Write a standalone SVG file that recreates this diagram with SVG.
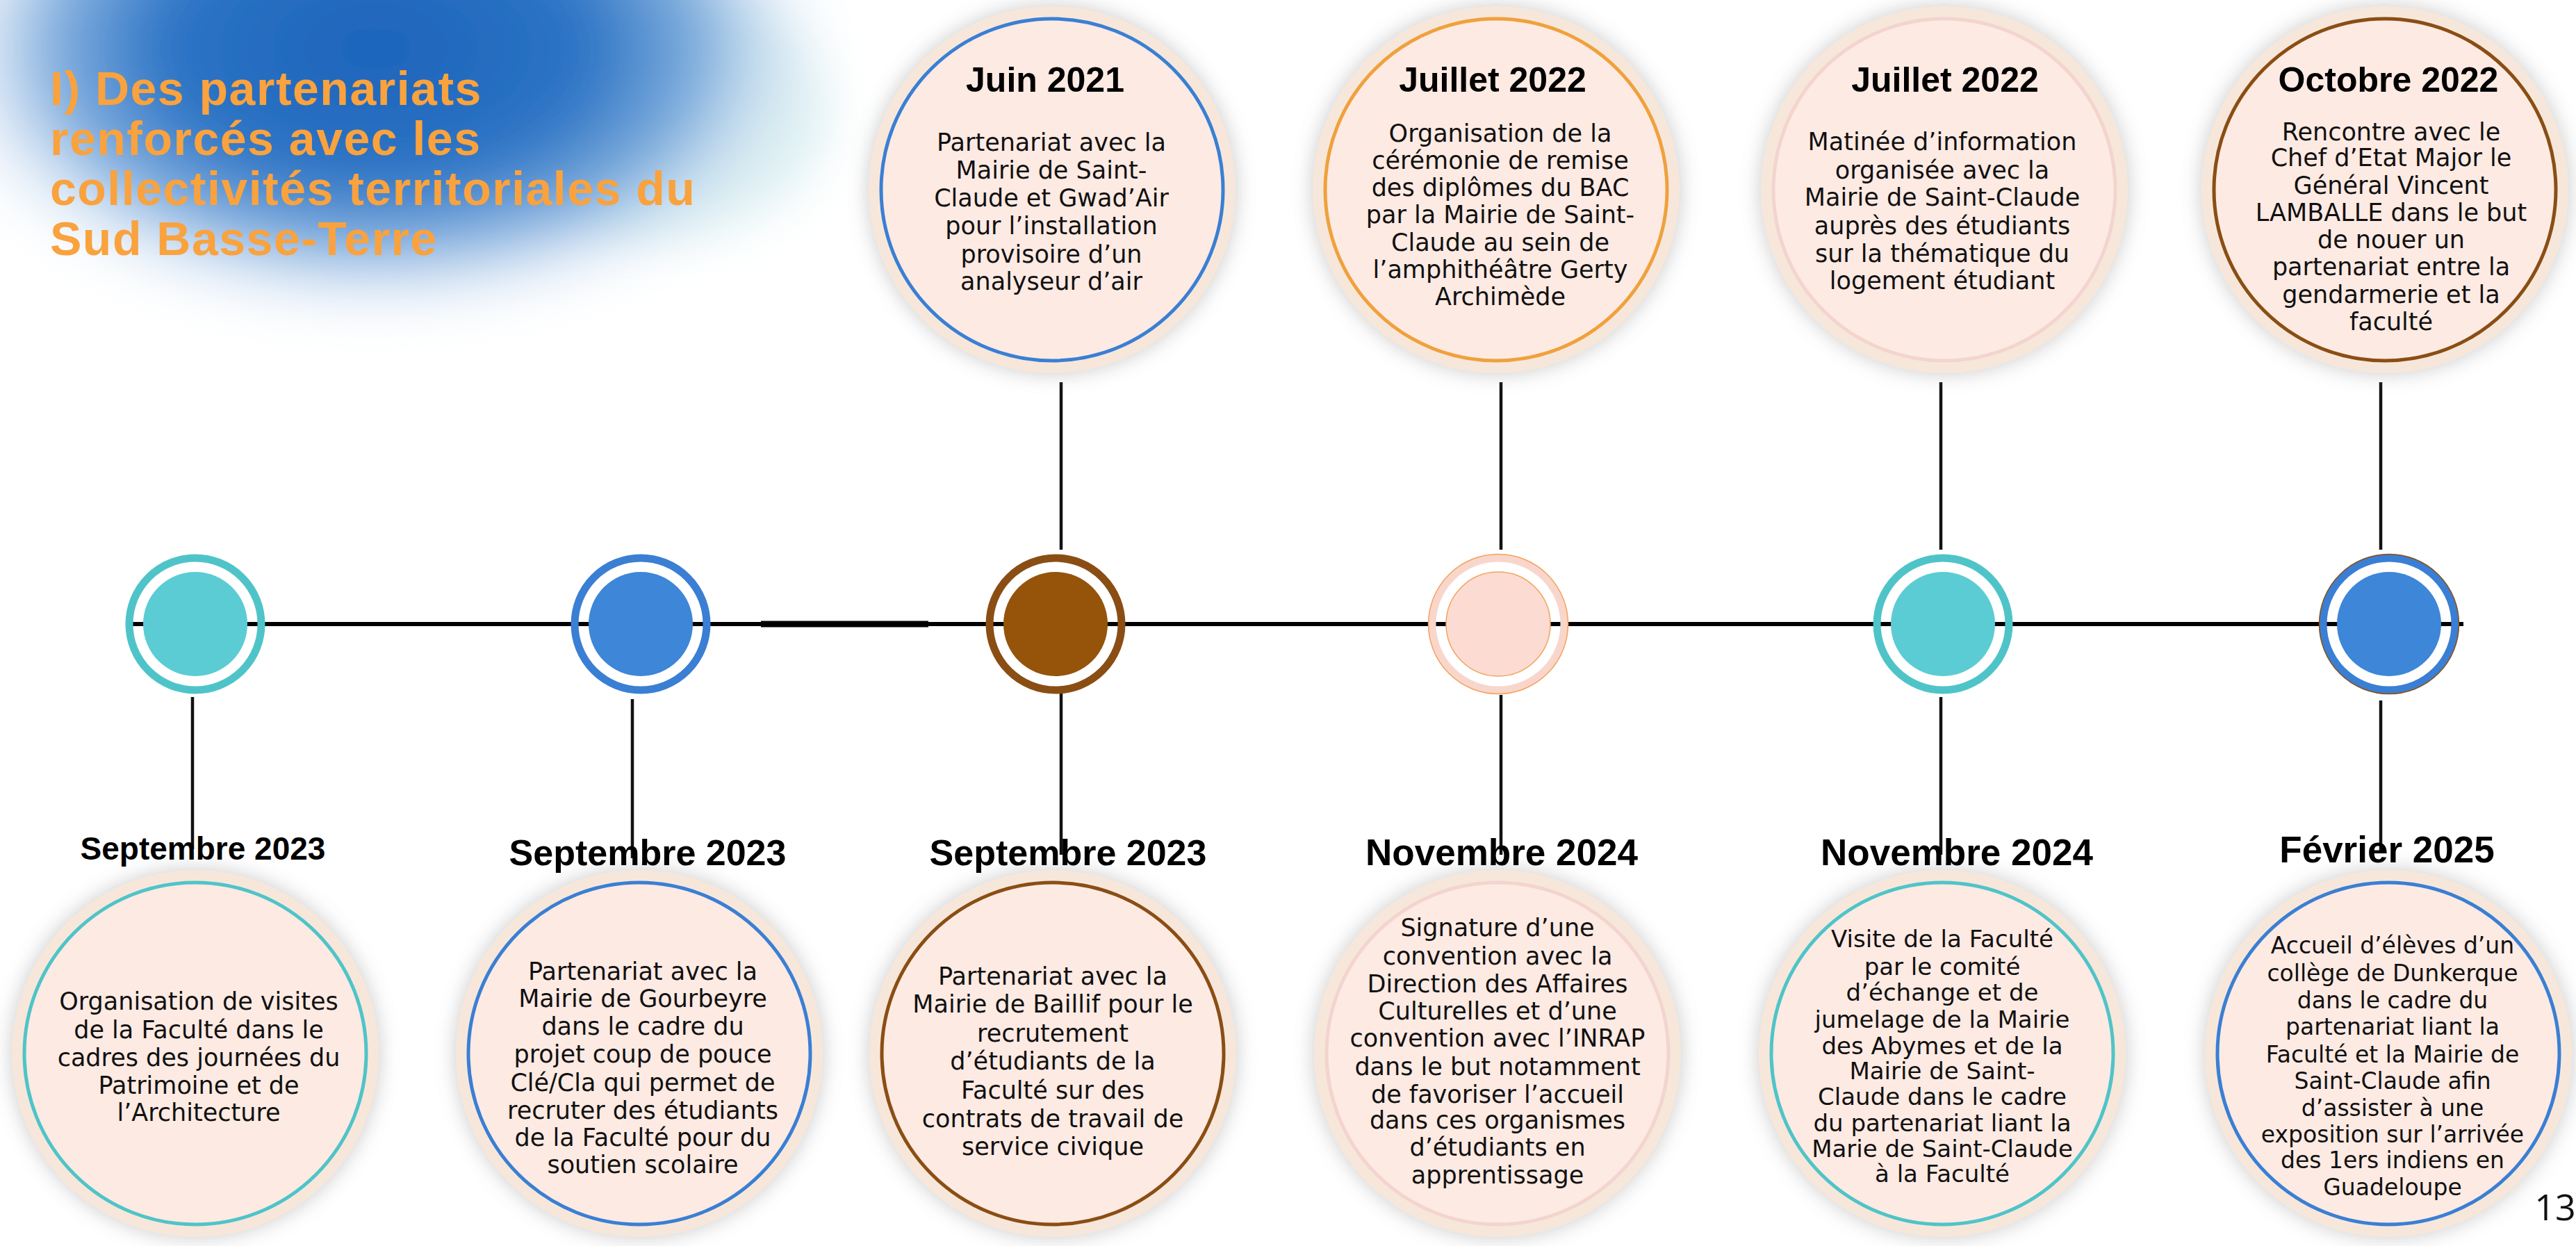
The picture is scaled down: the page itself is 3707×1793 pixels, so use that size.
<svg xmlns="http://www.w3.org/2000/svg" width="3707" height="1793" viewBox="0 0 3707 1793">
<defs>
<style>
.shadow{fill:#8f8f8f;opacity:.42;filter:url(#soft)}
.halo{fill:#F7E7DB}
.card{fill:#FDEAE3;stroke-width:5}
.date{font-family:"Liberation Sans",Arial,sans-serif;font-weight:700;font-size:52px;text-anchor:middle;fill:#000}
.body{font-family:"DejaVu Sans","Noto Sans",sans-serif;font-size:35px;text-anchor:middle;fill:#111}
.title{font-family:"Liberation Sans",Arial,sans-serif;font-weight:700;font-size:68px;letter-spacing:1.5px;fill:#F9A23E}
.ring{fill:none;stroke-width:11}
.conn{stroke:#111;stroke-width:4.5;fill:none}
.cyan{stroke:#4FC4C8}
.blue{stroke:#3A7FD3}
.brown{stroke:#8A4E14}
.orange{stroke:#F0A13C}
.faint{stroke:#F3D4CE}
</style>
<radialGradient id="blobg" cx="0.5" cy="0.5" r="0.5">
<stop offset="0" stop-color="#1c63bb"/>
<stop offset="0.45" stop-color="#2d74c5"/>
<stop offset="0.68" stop-color="#6a9fd8" stop-opacity="0.85"/>
<stop offset="0.86" stop-color="#c4d9f0" stop-opacity="0.4"/>
<stop offset="1" stop-color="#ffffff" stop-opacity="0"/>
</radialGradient>
<filter id="blur" x="-50%" y="-50%" width="200%" height="200%"><feGaussianBlur stdDeviation="35"/></filter>
<filter id="soft" x="-30%" y="-30%" width="160%" height="160%"><feGaussianBlur stdDeviation="14"/></filter>
</defs>
<rect width="3707" height="1793" fill="#ffffff"/>

<g id="background">
<ellipse cx="950" cy="160" rx="240" ry="180" fill="#d3ecee" opacity="0.75" filter="url(#blur)"/>
<ellipse cx="540" cy="70" rx="680" ry="410" fill="url(#blobg)" filter="url(#blur)"/>
</g>

<g id="title">
<text class="title" x="72" y="151">I) Des partenariats</text>
<text class="title" x="72" y="223">renforcés avec les</text>
<text class="title" x="72" y="295">collectivités territoriales du</text>
<text class="title" x="72" y="367">Sud Basse-Terre</text>
</g>

<g id="connectors">
<line x1="182" y1="898" x2="3545" y2="898" stroke="#000" stroke-width="6"/>
<line x1="1095" y1="898" x2="1336" y2="898" stroke="#000" stroke-width="9"/>
<line class="conn" x1="1527" y1="550" x2="1527" y2="791"/>
<line class="conn" x1="2160" y1="550" x2="2160" y2="791"/>
<line class="conn" x1="2793" y1="550" x2="2793" y2="791"/>
<line class="conn" x1="3426" y1="550" x2="3426" y2="791"/>
<line class="conn" x1="277" y1="1003" x2="277" y2="1222"/>
<line class="conn" x1="910" y1="1006" x2="910" y2="1235"/>
<line class="conn" x1="1527" y1="996" x2="1527" y2="1230"/>
<line class="conn" x1="2160" y1="1000" x2="2160" y2="1230"/>
<line class="conn" x1="2793" y1="1003" x2="2793" y2="1230"/>
<line class="conn" x1="3426" y1="1008" x2="3426" y2="1228"/>
</g>

<g id="event-1">
<circle class="ring cyan" cx="281" cy="898" r="95"/>
<circle cx="281" cy="898" r="75" fill="#5BCCD4"/>
<circle class="shadow" cx="281" cy="1516" r="266"/>
<circle class="halo" cx="281" cy="1516" r="264"/>
<circle class="card cyan" cx="281" cy="1516" r="246"/>
<text class="date" x="292" y="1237" style="font-size:46px">Septembre 2023</text>
<text class="body" x="286" y="1453">Organisation de visites</text>
<text class="body" x="286" y="1494">de la Faculté dans le</text>
<text class="body" x="286" y="1534">cadres des journées du</text>
<text class="body" x="286" y="1574">Patrimoine et de</text>
<text class="body" x="286" y="1613">l’Architecture</text>
</g>

<g id="event-2">
<circle class="ring blue" cx="922" cy="898" r="95"/>
<circle cx="922" cy="898" r="75" fill="#3D86D8"/>
<circle class="shadow" cx="920" cy="1516" r="266"/>
<circle class="halo" cx="920" cy="1516" r="264"/>
<circle class="card blue" cx="920" cy="1516" r="246"/>
<text class="date" x="932" y="1245">Septembre 2023</text>
<text class="body" x="925" y="1410">Partenariat avec la</text>
<text class="body" x="925" y="1449">Mairie de Gourbeyre</text>
<text class="body" x="925" y="1489">dans le cadre du</text>
<text class="body" x="925" y="1529">projet coup de pouce</text>
<text class="body" x="925" y="1570">Clé/Cla qui permet de</text>
<text class="body" x="925" y="1610">recruter des étudiants</text>
<text class="body" x="925" y="1649">de la Faculté pour du</text>
<text class="body" x="925" y="1688">soutien scolaire</text>
</g>

<g id="event-3">
<circle class="ring brown" cx="1519" cy="898" r="95"/>
<circle cx="1519" cy="898" r="75" fill="#95540A"/>
<circle class="shadow" cx="1514" cy="273" r="266"/>
<circle class="halo" cx="1514" cy="273" r="264"/>
<circle class="card blue" cx="1514" cy="273" r="246"/>
<text class="date" x="1504" y="132" style="font-size:50px">Juin 2021</text>
<text class="body" x="1513" y="217">Partenariat avec la</text>
<text class="body" x="1513" y="257">Mairie de Saint-</text>
<text class="body" x="1513" y="297">Claude et Gwad’Air</text>
<text class="body" x="1513" y="337">pour l’installation</text>
<text class="body" x="1513" y="378">provisoire d’un</text>
<text class="body" x="1513" y="417">analyseur d’air</text>
<circle class="shadow" cx="1515" cy="1516" r="266"/>
<circle class="halo" cx="1515" cy="1516" r="264"/>
<circle class="card brown" cx="1515" cy="1516" r="246"/>
<text class="date" x="1537" y="1245">Septembre 2023</text>
<text class="body" x="1515" y="1417">Partenariat avec la</text>
<text class="body" x="1515" y="1457">Mairie de Baillif pour le</text>
<text class="body" x="1515" y="1499">recrutement</text>
<text class="body" x="1515" y="1539">d’étudiants de la</text>
<text class="body" x="1515" y="1581">Faculté sur des</text>
<text class="body" x="1515" y="1622">contrats de travail de</text>
<text class="body" x="1515" y="1662">service civique</text>
</g>

<g id="event-4">
<circle cx="2156" cy="898" r="95" fill="none" stroke="#F9D6CC" stroke-width="11"/>
<circle cx="2156" cy="898" r="100.5" fill="none" stroke="#F2A35A" stroke-width="1.5"/>
<circle cx="2156" cy="898" r="75" fill="#FCDBD2" stroke="#F2A35A" stroke-width="1.5"/>
<circle class="shadow" cx="2153" cy="273" r="266"/>
<circle class="halo" cx="2153" cy="273" r="264"/>
<circle class="card orange" cx="2153" cy="273" r="246"/>
<text class="date" x="2148" y="132" style="font-size:50px">Juillet 2022</text>
<text class="body" x="2159" y="204">Organisation de la</text>
<text class="body" x="2159" y="243">cérémonie de remise</text>
<text class="body" x="2159" y="282">des diplômes du BAC</text>
<text class="body" x="2159" y="321">par la Mairie de Saint-</text>
<text class="body" x="2159" y="361">Claude au sein de</text>
<text class="body" x="2159" y="400">l’amphithéâtre Gerty</text>
<text class="body" x="2159" y="439">Archimède</text>
<circle class="shadow" cx="2155" cy="1516" r="266"/>
<circle class="halo" cx="2155" cy="1516" r="264"/>
<circle class="card faint" cx="2155" cy="1516" r="246"/>
<text class="date" x="2161" y="1245" style="font-size:53px">Novembre 2024</text>
<text class="body" x="2155" y="1347">Signature d’une</text>
<text class="body" x="2155" y="1388">convention avec la</text>
<text class="body" x="2155" y="1428">Direction des Affaires</text>
<text class="body" x="2155" y="1467">Culturelles et d’une</text>
<text class="body" x="2155" y="1506">convention avec l’INRAP</text>
<text class="body" x="2155" y="1547">dans le but notamment</text>
<text class="body" x="2155" y="1587">de favoriser l’accueil</text>
<text class="body" x="2155" y="1624">dans ces organismes</text>
<text class="body" x="2155" y="1663">d’étudiants en</text>
<text class="body" x="2155" y="1703">apprentissage</text>
</g>

<g id="event-5">
<circle class="ring cyan" cx="2796" cy="898" r="95"/>
<circle cx="2796" cy="898" r="75" fill="#5BCCD4"/>
<circle class="shadow" cx="2798" cy="273" r="266"/>
<circle class="halo" cx="2798" cy="273" r="264"/>
<circle class="card faint" cx="2798" cy="273" r="246"/>
<text class="date" x="2799" y="132" style="font-size:50px">Juillet 2022</text>
<text class="body" x="2795" y="216">Matinée d’information</text>
<text class="body" x="2795" y="257">organisée avec la</text>
<text class="body" x="2795" y="296">Mairie de Saint-Claude</text>
<text class="body" x="2795" y="337">auprès des étudiants</text>
<text class="body" x="2795" y="377">sur la thématique du</text>
<text class="body" x="2795" y="416">logement étudiant</text>
<circle class="shadow" cx="2795" cy="1516" r="266"/>
<circle class="halo" cx="2795" cy="1516" r="264"/>
<circle class="card cyan" cx="2795" cy="1516" r="246"/>
<text class="date" x="2816" y="1245" style="font-size:53px">Novembre 2024</text>
<text class="body" x="2795" y="1363" style="font-size:34px">Visite de la Faculté</text>
<text class="body" x="2795" y="1403" style="font-size:34px">par le comité</text>
<text class="body" x="2795" y="1440" style="font-size:34px">d’échange et de</text>
<text class="body" x="2795" y="1479" style="font-size:34px">jumelage de la Mairie</text>
<text class="body" x="2795" y="1517" style="font-size:34px">des Abymes et de la</text>
<text class="body" x="2795" y="1553" style="font-size:34px">Mairie de Saint-</text>
<text class="body" x="2795" y="1590" style="font-size:34px">Claude dans le cadre</text>
<text class="body" x="2795" y="1628" style="font-size:34px">du partenariat liant la</text>
<text class="body" x="2795" y="1665" style="font-size:34px">Marie de Saint-Claude</text>
<text class="body" x="2795" y="1701" style="font-size:34px">à la Faculté</text>
</g>

<g id="event-6">
<circle class="ring blue" cx="3438" cy="898" r="95"/>
<circle cx="3438" cy="898" r="100.5" fill="none" stroke="#8A4E14" stroke-width="1.5"/>
<circle cx="3438" cy="898" r="75" fill="#3D86D8"/>
<circle class="shadow" cx="3432" cy="273" r="266"/>
<circle class="halo" cx="3432" cy="273" r="264"/>
<circle class="card brown" cx="3432" cy="273" r="246"/>
<text class="date" x="3437" y="132" style="font-size:50px">Octobre 2022</text>
<text class="body" x="3441" y="202">Rencontre avec le</text>
<text class="body" x="3441" y="239">Chef d’Etat Major le</text>
<text class="body" x="3441" y="279">Général Vincent</text>
<text class="body" x="3441" y="318">LAMBALLE dans le but</text>
<text class="body" x="3441" y="357">de nouer un</text>
<text class="body" x="3441" y="396">partenariat entre la</text>
<text class="body" x="3441" y="436">gendarmerie et la</text>
<text class="body" x="3441" y="475">faculté</text>
<circle class="shadow" cx="3437" cy="1516" r="266"/>
<circle class="halo" cx="3437" cy="1516" r="264"/>
<circle class="card blue" cx="3437" cy="1516" r="246"/>
<text class="date" x="3435" y="1241" style="font-size:53px">Février 2025</text>
<text class="body" x="3443" y="1372" style="font-size:33px">Accueil d’élèves d’un</text>
<text class="body" x="3443" y="1412" style="font-size:33px">collège de Dunkerque</text>
<text class="body" x="3443" y="1451" style="font-size:33px">dans le cadre du</text>
<text class="body" x="3443" y="1489" style="font-size:33px">partenariat liant la</text>
<text class="body" x="3443" y="1529" style="font-size:33px">Faculté et la Mairie de</text>
<text class="body" x="3443" y="1567" style="font-size:33px">Saint-Claude afin</text>
<text class="body" x="3443" y="1606" style="font-size:33px">d’assister à une</text>
<text class="body" x="3443" y="1644" style="font-size:33px">exposition sur l’arrivée</text>
<text class="body" x="3443" y="1681" style="font-size:33px">des 1ers indiens en</text>
<text class="body" x="3443" y="1720" style="font-size:33px">Guadeloupe</text>
</g>

<g id="page-number">
<text x="3677" y="1756" style="font-family:'Open Sans','Liberation Sans',sans-serif;font-size:52px;text-anchor:middle;fill:#111">13</text>
</g>
</svg>
